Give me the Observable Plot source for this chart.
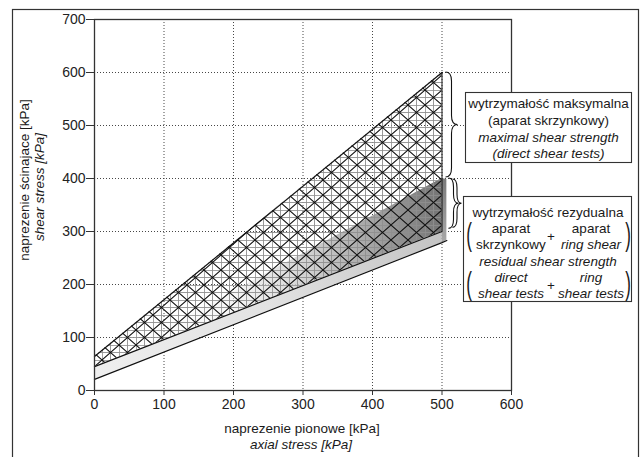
<!DOCTYPE html>
<html><head><meta charset="utf-8">
<script src="https://cdn.jsdelivr.net/npm/d3@7"></script>
<script src="https://cdn.jsdelivr.net/npm/@observablehq/plot@0.6"></script>
<style>
html,body{margin:0;padding:0;background:#fff;}
#chart{width:640px;height:457px;overflow:hidden;}
text{font-family:"Liberation Sans",Arial,sans-serif;}
</style></head><body><div id="chart"></div>
<script>
// ---- data ----
const xTicks = [0, 100, 200, 300, 400, 500, 600];
const yTicks = [0, 100, 200, 300, 400, 500, 600, 700];
const stress = [0, 500];            // axial stress at ends of envelopes [kPa]
const maxUpper = [64, 600];         // maximal shear strength, upper envelope
const maxLower = [45, 300];         // maximal shear strength, lower envelope
const resUpper = [45, 400];         // residual shear strength, upper envelope
const baseStress = [0, 500, 507];   // bottom edge of the residual slab
const baseShear = [21, 279, 283];
const sideStress = [500, 507];      // end face of the residual slab
const sideLow = [279, 283];
const sideHigh = [400, 398];
const maxRange = [402, 600];        // brace: maximal strength range at 500 kPa
const resRange = [305, 400];        // brace: residual strength range at 500 kPa

const xLabel = ["naprezenie pionowe [kPa]", "axial stress [kPa]"];
const yLabel = ["naprezenie ścinajace [kPa]", "shear stress [kPa]"];
const maxLegend = ["wytrzymałość maksymalna", "(aparat skrzynkowy)", "maximal shear strength", "(direct shear tests)"];
const resTitle = "wytrzymałość rezydualna";
const resColA = ["aparat", "skrzynkowy"];
const resColB = ["aparat", "ring shear"];
const resEn = "residual shear strength";
const resColC = ["direct", "shear tests"];
const resColD = ["ring", "shear tests"];

const env = stress.map((x, i) => ({x, maxUpper: maxUpper[i], maxLower: maxLower[i], resUpper: resUpper[i]}));
const base = baseStress.map((x, i) => ({x, y: baseShear[i]}));
const face = stress.map((x, i) => ({x, y1: baseShear[i], y2: maxLower[i]}));
const side = sideStress.map((x, i) => ({x, y1: sideLow[i], y2: sideHigh[i]}));

function bracePath(x0, ya, yb, w) {
  const q = Math.min(9, (yb - ya) / 4), xm = x0 + w * 0.5, ym = (ya + yb) / 2;
  return `M${x0},${ya}Q${xm},${ya} ${xm},${ya + q}L${xm},${ym - q}Q${xm},${ym} ${x0 + w},${ym}` +
         `Q${xm},${ym} ${xm},${ym + q}L${xm},${yb - q}Q${xm},${yb} ${x0},${yb}`;
}

const braceMark = (index, scales) => {
  const g = d3.create("svg:g").attr("fill", "none").attr("stroke", "#111").attr("stroke-width", 1.1);
  const x5 = scales.x(stress[1]);
  g.append("path").attr("d", bracePath(x5 + 4, scales.y(maxRange[1]), scales.y(maxRange[0]), 12));
  g.append("path").attr("d", bracePath(x5 + 7, scales.y(resRange[1]), scales.y(resRange[0]), 10));
  g.append("path").attr("d", bracePath(x5 + 11, scales.y(resRange[1]) + 1, scales.y(resRange[0]) - 1, 9));
  return g.node();
};

const chart = Plot.plot({
  width: 640, height: 457,
  marginLeft: 94, marginRight: 129, marginTop: 19, marginBottom: 67,
  x: {domain: [0, 600]},
  y: {domain: [0, 700]},
  style: {fontFamily: "Liberation Sans, Arial, sans-serif", background: "transparent"},
  marks: [
    Plot.gridX(xTicks.slice(1, -1), {stroke: "#333", strokeOpacity: 0.9, strokeDasharray: "1,2"}),
    Plot.gridY(yTicks.slice(1, -1), {stroke: "#333", strokeOpacity: 0.9, strokeDasharray: "1,2"}),
    Plot.areaY(face, {x: "x", y1: "y1", y2: "y2", fill: "url(#faceGrad)"}),
    Plot.areaY(env, {x: "x", y1: "maxLower", y2: "resUpper", fill: "url(#resGrad)"}),
    Plot.areaY(side, {x: "x", y1: "y1", y2: "y2", fill: "url(#sideGrad)"}),
    Plot.areaY(env, {x: "x", y1: "maxLower", y2: "maxUpper", fill: "url(#mesh)"}),
    Plot.line(env, {x: "x", y: "maxUpper", stroke: "#111", strokeWidth: 1.2}),
    Plot.line(env, {x: "x", y: "maxLower", stroke: "#111", strokeWidth: 1.2}),
    Plot.line(base, {x: "x", y: "y", stroke: "#111", strokeWidth: 1.2}),
    Plot.ruleX([stress[1]], {y1: maxLower[1], y2: maxUpper[1], stroke: "#111", strokeWidth: 1}),
    Plot.frame({stroke: "#333", strokeWidth: 1.3}),
    Plot.axisX(xTicks, {tickSize: 5, tickPadding: 4, fontSize: 14, label: null, stroke: "#333", color: "#222"}),
    Plot.axisY(yTicks, {tickSize: 8, tickPadding: 1, fontSize: 14, label: null, stroke: "#333", color: "#222"}),
    braceMark
  ]
});
document.getElementById("chart").appendChild(chart);

const svg = d3.select(chart);
const defs = svg.insert("defs", ":first-child");
// mesh pattern (triangular net)
const pat = defs.append("pattern").attr("id", "mesh").attr("patternUnits", "userSpaceOnUse")
  .attr("width", 17).attr("height", 15);
pat.append("path").attr("d", "M0.4,0V15M8.5,0V15M0,0.4H17M0,7.5H17").attr("stroke", "#8f8f8f").attr("stroke-width", 0.9).attr("fill", "none");
pat.append("path").attr("d", "M-1,-0.88L18,15.88M18,-0.88L-1,15.88").attr("stroke", "#111").attr("stroke-width", 1.05).attr("fill", "none");
function grad(id, stops, attrs) {
  const g = defs.append("linearGradient").attr("id", id);
  Object.entries(attrs).forEach(([k, v]) => g.attr(k, v));
  stops.forEach(([o, c, a]) => g.append("stop").attr("offset", o).attr("stop-color", c).attr("stop-opacity", a));
}
grad("faceGrad", [[0, "#efefef", 1], [0.5, "#e2e2e2", 1], [1, "#c4c4c4", 1]], {x1: 0, y1: 0, x2: 1, y2: 0});
grad("resGrad", [[0, "#ffffff", 0], [0.4, "#f0f0f0", 0.6], [0.72, "#b8b8b8", 1], [1, "#747474", 1]], {x1: 0, y1: 0, x2: 1, y2: 0});
grad("sideGrad", [[0, "#7a7a7a", 1], [1, "#a8a8a8", 1]], {x1: 0, y1: 0, x2: 0, y2: 1});

// outer border
svg.insert("rect", "defs + *").attr("x", 12.5).attr("y", 9.5).attr("width", 626).attr("height", 470)
  .attr("fill", "none").attr("stroke", "#333").attr("stroke-width", 1.2);

const ann = svg.append("g").attr("fill", "#1a1a1a").attr("font-size", 13.5).attr("text-anchor", "middle");
// axis titles
ann.append("text").attr("x", 302).attr("y", 433).text(xLabel[0]);
ann.append("text").attr("x", 301).attr("y", 449).attr("font-style", "italic").text(xLabel[1]);
ann.append("text").attr("transform", "translate(29,180) rotate(-90)").text(yLabel[0]);
ann.append("text").attr("transform", "translate(44,187) rotate(-90)").attr("font-style", "italic").text(yLabel[1]);

// legend box 1
ann.append("rect").attr("x", 465.5).attr("y", 92.5).attr("width", 166).attr("height", 70)
  .attr("fill", "#fff").attr("stroke", "#333").attr("stroke-width", 1.1);
maxLegend.forEach((t, i) => ann.append("text").attr("x", 548.5).attr("y", 108 + i * 16.8)
  .attr("font-style", i >= 2 ? "italic" : null).text(t));

// legend box 2
ann.append("rect").attr("x", 463.5).attr("y", 196.5).attr("width", 168).attr("height", 105)
  .attr("fill", "#fff").attr("stroke", "#333").attr("stroke-width", 1.1);
ann.append("text").attr("x", 548).attr("y", 217).text(resTitle);
const colA = 511, colB = 591;
resColA.forEach((t, i) => ann.append("text").attr("x", colA).attr("y", 233 + i * 16).text(t));
resColB.forEach((t, i) => ann.append("text").attr("x", colB).attr("y", 233 + i * 16).attr("font-style", i === 1 ? "italic" : null).text(t));
ann.append("text").attr("x", 551).attr("y", 241).text("+");
ann.append("text").attr("x", 548).attr("y", 266).attr("font-style", "italic").text(resEn);
resColC.forEach((t, i) => ann.append("text").attr("x", colA).attr("y", 282 + i * 16).attr("font-style", "italic").text(t));
resColD.forEach((t, i) => ann.append("text").attr("x", colB).attr("y", 282 + i * 16).attr("font-style", "italic").text(t));
ann.append("text").attr("x", 551).attr("y", 290).text("+");
[[236, 469], [236, 628], [285, 469], [285, 628]].forEach(([y, x], i) =>
  ann.append("text").attr("transform", `translate(${x},${y + 9}) scale(0.55,1)`).attr("font-size", 31)
    .text(i % 2 === 0 ? "(" : ")"));
</script></body></html>
